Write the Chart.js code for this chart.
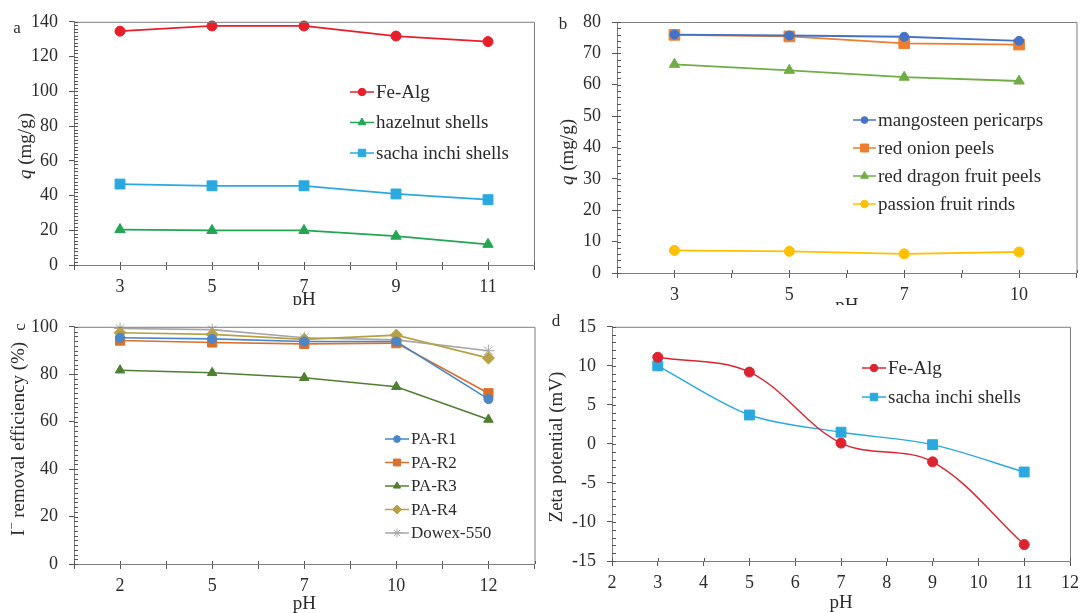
<!DOCTYPE html>
<html>
<head>
<meta charset="utf-8">
<title>Effect of pH</title>
<script src="https://cdn.jsdelivr.net/npm/chart.js@4.4.1/dist/chart.umd.min.js"></script>
<style>
    body { margin: 0; background: #fff; width: 1085px; height: 613px; position: relative; overflow: hidden; }
    canvas { position: absolute; }
</style>
</head>
<body>
<canvas id="chartA" width="542" height="305" style="left:0;top:0"></canvas>
<canvas id="chartB" width="543" height="305" style="left:542px;top:0"></canvas>
<canvas id="chartC" width="542" height="308" style="left:0;top:305px"></canvas>
<canvas id="chartD" width="543" height="308" style="left:542px;top:305px"></canvas>
<script>
// (a) adsorption capacity q (mg/g) vs pH
const phA = [3, 5, 7, 9, 11];
const feAlgA = [134.6, 137.6, 137.6, 131.8, 128.6];
const hazelnutA = [20.4, 19.9, 19.9, 16.6, 11.9];
const sachaA = [46.6, 45.6, 45.6, 40.9, 37.6];

// (b) q (mg/g) for fruit wastes
const phB = ['3', '5', '7', '10'];
const mangosteenB = [76.0, 75.7, 75.3, 74.0];
const onionB = [75.9, 75.4, 73.2, 72.8];
const dragonB = [66.5, 64.6, 62.4, 61.2];
const passionB = [7.2, 6.9, 6.1, 6.7];

// (c) iodide removal efficiency (%)
const phC = ['2', '5', '7', '10', '12'];
const paR1 = [95.4, 94.9, 93.8, 93.8, 69.5];
const paR2 = [94.2, 93.4, 92.8, 93.1, 72.0];
const paR3 = [81.7, 80.6, 78.5, 74.7, 60.9];
const paR4 = [97.5, 96.8, 94.7, 96.5, 86.8];
const dowex = [99.3, 98.8, 95.4, 94.5, 89.9];

// (d) zeta potential (mV)
const phD = [3, 5, 7, 9, 11];
const zetaFeAlg = [11.1, 9.2, 0.1, -2.3, -12.9];
const zetaSacha = [10.0, 3.7, 1.5, -0.1, -3.6];

const axisColor = '#7f7f7f';
const tickColor = '#555555';
const textColor = '#2b2b2b';
const serif = '"Liberation Serif", "Times New Roman", serif';

Chart.defaults.font.family = serif;
Chart.defaults.color = textColor;
Chart.defaults.animation = false;
Chart.defaults.plugins.legend.display = false;
Chart.defaults.plugins.tooltip.enabled = false;

function series(label, xs, ys, color, style, radius, width, tension) {
    return {
        label: label,
        data: ys.map((y, i) => ({ x: xs[i], y: y })),
        borderColor: color,
        backgroundColor: color,
        borderWidth: width,
        pointStyle: style,
        pointRadius: radius,
        pointBorderWidth: 1,
        tension: tension || 0,
        clip: false
    };
}

function xAxis(min, max, step, labelFn, height) {
    return {
        type: 'linear',
        min: min,
        max: max,
        afterFit: function (s) { s.height = height; },
        border: { color: axisColor, width: 1 },
        grid: { drawOnChartArea: false, tickLength: 5, color: tickColor },
        ticks: {
            stepSize: step, autoSkip: false, maxRotation: 0, padding: 6,
            font: { size: 18 }, color: textColor, callback: labelFn
        }
    };
}

// minor ticks only get the short inner mark, labelled ones also poke outside
function yAxis(min, max, minor, major, width) {
    return {
        type: 'linear',
        min: min,
        max: max,
        afterFit: function (s) { s.width = width; },
        border: { color: axisColor, width: 1 },
        grid: {
            drawOnChartArea: false, tickLength: 5,
            color: c => (c.tick && c.tick.value % major !== 0 ? 'rgba(0,0,0,0)' : tickColor)
        },
        ticks: {
            stepSize: minor, autoSkip: false, padding: 11,
            font: { size: 18 }, color: textColor,
            callback: v => (v % major === 0 ? v : '')
        }
    };
}

// draws the box, inner tick marks, axis titles, panel letter and the legend
const panelDecor = {
    id: 'panelDecor',
    afterDraw(chart, args, opts) {
        const ctx = chart.ctx;
        const a = chart.chartArea;
        ctx.save();

        ctx.strokeStyle = axisColor;
        ctx.lineWidth = 1;
        ctx.beginPath();
        ctx.moveTo(a.left, a.top + 0.5);
        ctx.lineTo(a.right + 0.5, a.top + 0.5);
        ctx.lineTo(a.right + 0.5, a.bottom);
        ctx.stroke();

        ctx.strokeStyle = tickColor;
        ctx.beginPath();
        const ys = chart.scales.y;
        ys.ticks.forEach(t => {
            const p = Math.round(ys.getPixelForValue(t.value)) + 0.5;
            ctx.moveTo(a.left, p);
            ctx.lineTo(a.left + 4, p);
        });
        const xs = chart.scales.x;
        xs.ticks.forEach(t => {
            const p = Math.round(xs.getPixelForValue(t.value)) + 0.5;
            ctx.moveTo(p, a.bottom);
            ctx.lineTo(p, a.bottom - 3);
        });
        ctx.stroke();

        ctx.fillStyle = textColor;
        ctx.textBaseline = 'middle';

        // x title
        ctx.font = '19px ' + serif;
        ctx.textAlign = 'center';
        ctx.fillText(opts.xTitle, (a.left + a.right) / 2, a.bottom + opts.xTitleDy);

        // y title, rotated, built from parts
        const yt = opts.yTitle;
        ctx.save();
        ctx.translate(yt.x, yt.y);
        ctx.rotate(-Math.PI / 2);
        ctx.textAlign = 'left';
        let total = 0;
        yt.parts.forEach(p => {
            ctx.font = (p.italic ? 'italic ' : '') + (p.sup ? 13 : 19) + 'px ' + serif;
            total += ctx.measureText(p.text).width;
        });
        let px = -total / 2;
        yt.parts.forEach(p => {
            ctx.font = (p.italic ? 'italic ' : '') + (p.sup ? 13 : 19) + 'px ' + serif;
            ctx.fillText(p.text, px, p.sup ? -6 : 0);
            px += ctx.measureText(p.text).width;
        });
        ctx.restore();

        // panel letter
        const lt = opts.letter;
        ctx.save();
        ctx.translate(lt.x, lt.y);
        if (lt.rotate) ctx.rotate(-Math.PI / 2);
        ctx.font = '17px ' + serif;
        ctx.textAlign = 'center';
        ctx.fillText(lt.text, 0, 0);
        ctx.restore();

        // legend
        const lg = opts.legend;
        chart.data.datasets.forEach((ds, i) => {
            const y = lg.y + i * lg.dy;
            ctx.strokeStyle = ds.borderColor;
            ctx.fillStyle = ds.backgroundColor;
            ctx.lineWidth = 1.5;
            ctx.beginPath();
            ctx.moveTo(lg.x, y);
            ctx.lineTo(lg.x + lg.line, y);
            ctx.stroke();
            ctx.lineWidth = 1;
            Chart.helpers.drawPoint(ctx, {
                pointStyle: ds.pointStyle,
                radius: ds.pointRadius * 0.75,
                rotation: 0,
                borderWidth: 1
            }, lg.x + lg.line / 2, y);
            ctx.fillStyle = textColor;
            ctx.font = lg.size + 'px ' + serif;
            ctx.textAlign = 'left';
            ctx.fillText(ds.label, lg.x + lg.line + 2, y + 1);
        });

        ctx.restore();
    }
};

const qTitle = [{ text: 'q', italic: true }, { text: ' (mg/g)' }];
const idxB = phB.map((_, i) => i);
const idxC = phC.map((_, i) => i);

new Chart(document.getElementById('chartA'), {
    type: 'line',
    data: {
        datasets: [
            series('Fe-Alg', phA, feAlgA, '#e81e2a', 'circle', 5, 1.8),
            series('hazelnut shells', phA, hazelnutA, '#23a553', 'triangle', 6, 1.8),
            series('sacha inchi shells', phA, sachaA, '#2aa9e0', 'rect', 7, 1.8)
        ]
    },
    options: {
        responsive: false,
        devicePixelRatio: 1,
        layout: { padding: { top: 21, right: 6, left: 0, bottom: 0 } },
        scales: {
            x: xAxis(2, 12, 1, v => (v % 2 === 1 ? v : ''), 40),
            y: yAxis(0, 140, 2, 20, 74)
        },
        plugins: {
            panelDecor: {
                xTitle: 'pH', xTitleDy: 35,
                yTitle: { x: 26, y: 146, parts: qTitle },
                letter: { text: 'a', x: 17, y: 29 },
                legend: { x: 350, y: 92, dy: 30.5, line: 24, size: 19 }
            }
        }
    },
    plugins: [panelDecor]
});

new Chart(document.getElementById('chartB'), {
    type: 'line',
    data: {
        datasets: [
            series('mangosteen pericarps', idxB, mangosteenB, '#4472c4', 'circle', 4.5, 1.8),
            series('red onion peels', idxB, onionB, '#ed7d31', 'rect', 7.5, 1.8),
            series('red dragon fruit peels', idxB, dragonB, '#70ad47', 'triangle', 6, 1.8),
            series('passion fruit rinds', idxB, passionB, '#ffc000', 'circle', 5, 1.8)
        ]
    },
    options: {
        responsive: false,
        devicePixelRatio: 1,
        layout: { padding: { top: 22, right: 3, left: 0, bottom: 0 } },
        scales: {
            x: xAxis(-0.5, phB.length - 0.5, 0.5, v => (Number.isInteger(v) ? phB[v] : ''), 32),
            y: yAxis(0, 80, 2, 10, 75)
        },
        plugins: {
            panelDecor: {
                xTitle: 'pH', xTitleDy: 33,
                yTitle: { x: 26, y: 152, parts: qTitle },
                letter: { text: 'b', x: 21, y: 25 },
                legend: { x: 311, y: 120, dy: 28, line: 23, size: 19 }
            }
        }
    },
    plugins: [panelDecor]
});

new Chart(document.getElementById('chartC'), {
    type: 'line',
    data: {
        datasets: [
            series('PA-R1', idxC, paR1, '#4a86c8', 'circle', 4.5, 1.6),
            series('PA-R2', idxC, paR2, '#d9702e', 'rect', 6.5, 1.6),
            series('PA-R3', idxC, paR3, '#4f7f33', 'triangle', 5.5, 1.6),
            series('PA-R4', idxC, paR4, '#b8a046', 'rectRot', 6, 1.6),
            series('Dowex-550', idxC, dowex, '#a6a6a6', 'star', 6, 1.6)
        ]
    },
    options: {
        responsive: false,
        devicePixelRatio: 1,
        layout: { padding: { top: 17, right: 1, left: 0, bottom: 0 } },
        scales: {
            x: xAxis(-0.5, phC.length - 0.5, 0.5, v => (Number.isInteger(v) ? phC[v] : ''), 49),
            y: yAxis(0, 100, 2, 20, 74)
        },
        plugins: {
            panelDecor: {
                xTitle: 'pH', xTitleDy: 40,
                yTitle: {
                    x: 19, y: 134,
                    parts: [{ text: 'I' }, { text: '−', sup: true }, { text: ' removal efficiency (%)' }]
                },
                letter: { text: 'c', x: 21, y: 22, rotate: true },
                legend: { x: 385, y: 134, dy: 23.5, line: 24, size: 17 }
            }
        }
    },
    plugins: [panelDecor]
});

new Chart(document.getElementById('chartD'), {
    type: 'line',
    data: {
        datasets: [
            series('Fe-Alg', phD, zetaFeAlg, '#dc2430', 'circle', 5, 1.4, 0.35),
            series('sacha inchi shells', phD, zetaSacha, '#2aa9e0', 'rect', 7, 1.4, 0.3)
        ]
    },
    options: {
        responsive: false,
        devicePixelRatio: 1,
        layout: { padding: { top: 16, right: 13, left: 0, bottom: 0 } },
        scales: {
            x: xAxis(2, 12, 1, v => v, 52),
            y: yAxis(-15, 15, 1, 5, 70)
        },
        plugins: {
            panelDecor: {
                xTitle: 'pH', xTitleDy: 42,
                yTitle: { x: 15, y: 142, parts: [{ text: 'Zeta potential (mV)' }] },
                letter: { text: 'd', x: 14, y: 17 },
                legend: { x: 320, y: 63, dy: 29, line: 24, size: 19 }
            }
        }
    },
    plugins: [panelDecor]
});
</script>
</body>
</html>
